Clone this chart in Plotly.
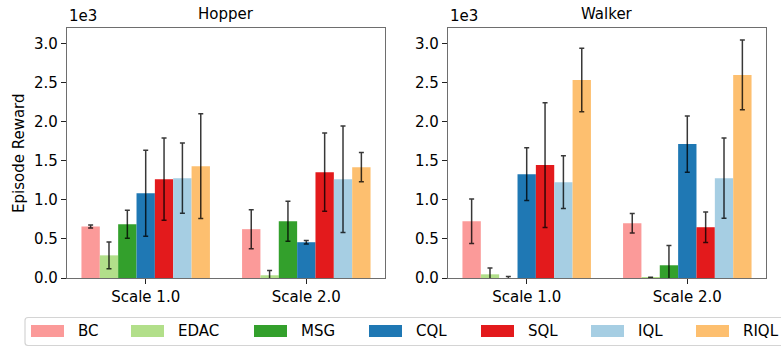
import plotly.graph_objects as go

# ---------------- data ----------------
methods = ["BC", "EDAC", "MSG", "CQL", "SQL", "IQL", "RIQL"]
scales = ["Scale 1.0", "Scale 2.0"]
envs = ["Hopper", "Walker"]

# episode reward, one row per method: [Scale 1.0, Scale 2.0]
hopper_mean = [[660, 625], [290, 35], [688, 727], [1085, 458],
               [1265, 1355], [1278, 1265], [1432, 1419]]
hopper_std = [[20, 250], [170, 60], [180, 257], [550, 22],
              [527, 500], [450, 682], [670, 188]]
walker_mean = [[727, 701], [47, 3], [-5, 163], [1329, 1714],
               [1445, 650], [1227, 1278], [2535, 2600]]
walker_std = [[284, 124], [82, 6], [25, 252], [338, 359],
              [798, 195], [338, 513], [406, 445]]

ytick_vals = [0, 500, 1000, 1500, 2000, 2500, 3000]
ytick_text = ["0.0", "0.5", "1.0", "1.5", "2.0", "2.5", "3.0"]

colors = ["#fb9a99", "#b2df8a", "#33a02c", "#1f78b4", "#e31a1c", "#a6cee3", "#fdbf6f"]

# ---------------- layout constants ----------------
W, H = 781, 347
FONT = "DejaVu Sans"
def px_x(x):
    return x / W
def px_y(y):
    return 1 - y / H

fig = go.Figure()
means = [hopper_mean, walker_mean]
stds = [hopper_std, walker_std]
for e in range(2):
    xa = "x" if e == 0 else "x2"
    ya = "y" if e == 0 else "y2"
    for m, name in enumerate(methods):
        fig.add_trace(go.Bar(
            x=scales, y=means[e][m], name=name,
            marker=dict(color=colors[m], line=dict(width=0)),
            error_y=dict(type="data", array=stds[e][m], visible=True,
                         color="rgba(0,0,0,0.78)", thickness=1.5, width=2.5),
            xaxis=xa, yaxis=ya, showlegend=False,
            offsetgroup=str(m),
        ))

axis_line = dict(showline=True, linecolor="#6e6e6e", linewidth=1.3, mirror=True,
                 ticks="outside", ticklen=5, tickwidth=1.2, tickcolor="#222",
                 showgrid=False, zeroline=False, automargin=False,
                 tickfont=dict(family=FONT, size=15, color="black"))

dom1 = [px_x(67), px_x(385)]
dom2 = [px_x(448), px_x(766)]
ydom = [px_y(278), px_y(28)]

fig.update_layout(
    width=W, height=H,
    margin=dict(l=0, r=0, t=0, b=0, autoexpand=False),
    paper_bgcolor="white", plot_bgcolor="white",
    barmode="group", bargap=0.2, bargroupgap=0,
    font=dict(family=FONT, size=15, color="black"),
    xaxis=dict(domain=dom1, anchor="y", range=[-0.49, 1.49], type="category", **axis_line),
    xaxis2=dict(domain=dom2, anchor="y2", range=[-0.49, 1.49], type="category", **axis_line),
    yaxis=dict(domain=ydom, anchor="x", range=[0, 3200], tickvals=ytick_vals,
               ticktext=ytick_text, **axis_line),
    yaxis2=dict(domain=ydom, anchor="x2", range=[0, 3200], tickvals=ytick_vals,
                ticktext=ytick_text, **axis_line),
)

annotations = []
# titles and offset labels
for dom, env in zip([dom1, dom2], envs):
    annotations.append(dict(text=env, x=(dom[0] + dom[1]) / 2, y=px_y(25),
                            xref="paper", yref="paper", xanchor="center", yanchor="bottom",
                            showarrow=False, font=dict(family=FONT, size=15)))
    annotations.append(dict(text="1e3", x=dom[0], y=px_y(27), xref="paper", yref="paper",
                            xanchor="left", yanchor="bottom", showarrow=False,
                            font=dict(family=FONT, size=15)))
annotations.append(dict(text="Episode Reward", x=px_x(19), y=(ydom[0] + ydom[1]) / 2,
                        xref="paper", yref="paper", textangle=-90, showarrow=False,
                        xanchor="center", yanchor="middle", font=dict(family=FONT, size=15)))

# custom legend (matplotlib-style wide patches)
shapes = []
shapes.append(dict(type="path", xref="paper", yref="paper",
                   path=f"M {px_x(800)},{px_y(317.5)} L {px_x(28)},{px_y(317.5)} "
                        f"Q {px_x(25)},{px_y(317.5)} {px_x(25)},{px_y(320.5)} "
                        f"L {px_x(25)},{px_y(342.5)} Q {px_x(25)},{px_y(345.5)} {px_x(28)},{px_y(345.5)} "
                        f"L {px_x(800)},{px_y(345.5)}",
                   line=dict(color="#d4d4d4", width=1.2), fillcolor="white", layer="below"))
legend_x = [31, 131, 254, 369, 481, 591, 696]
for lx, name, col in zip(legend_x, methods, colors):
    shapes.append(dict(type="rect", xref="paper", yref="paper",
                       x0=px_x(lx), x1=px_x(lx + 33), y0=px_y(337), y1=px_y(325),
                       fillcolor=col, line=dict(width=0)))
    annotations.append(dict(text=name, x=px_x(lx + 45), y=px_y(331), xref="paper", yref="paper",
                            xanchor="left", yanchor="middle", showarrow=False,
                            font=dict(family=FONT, size=15)))

fig.update_layout(annotations=annotations, shapes=shapes)
fig.write_html("out.html", config={"displayModeBar": False},
               post_script="document.body.style.margin='0px';document.body.style.overflow='hidden';")
